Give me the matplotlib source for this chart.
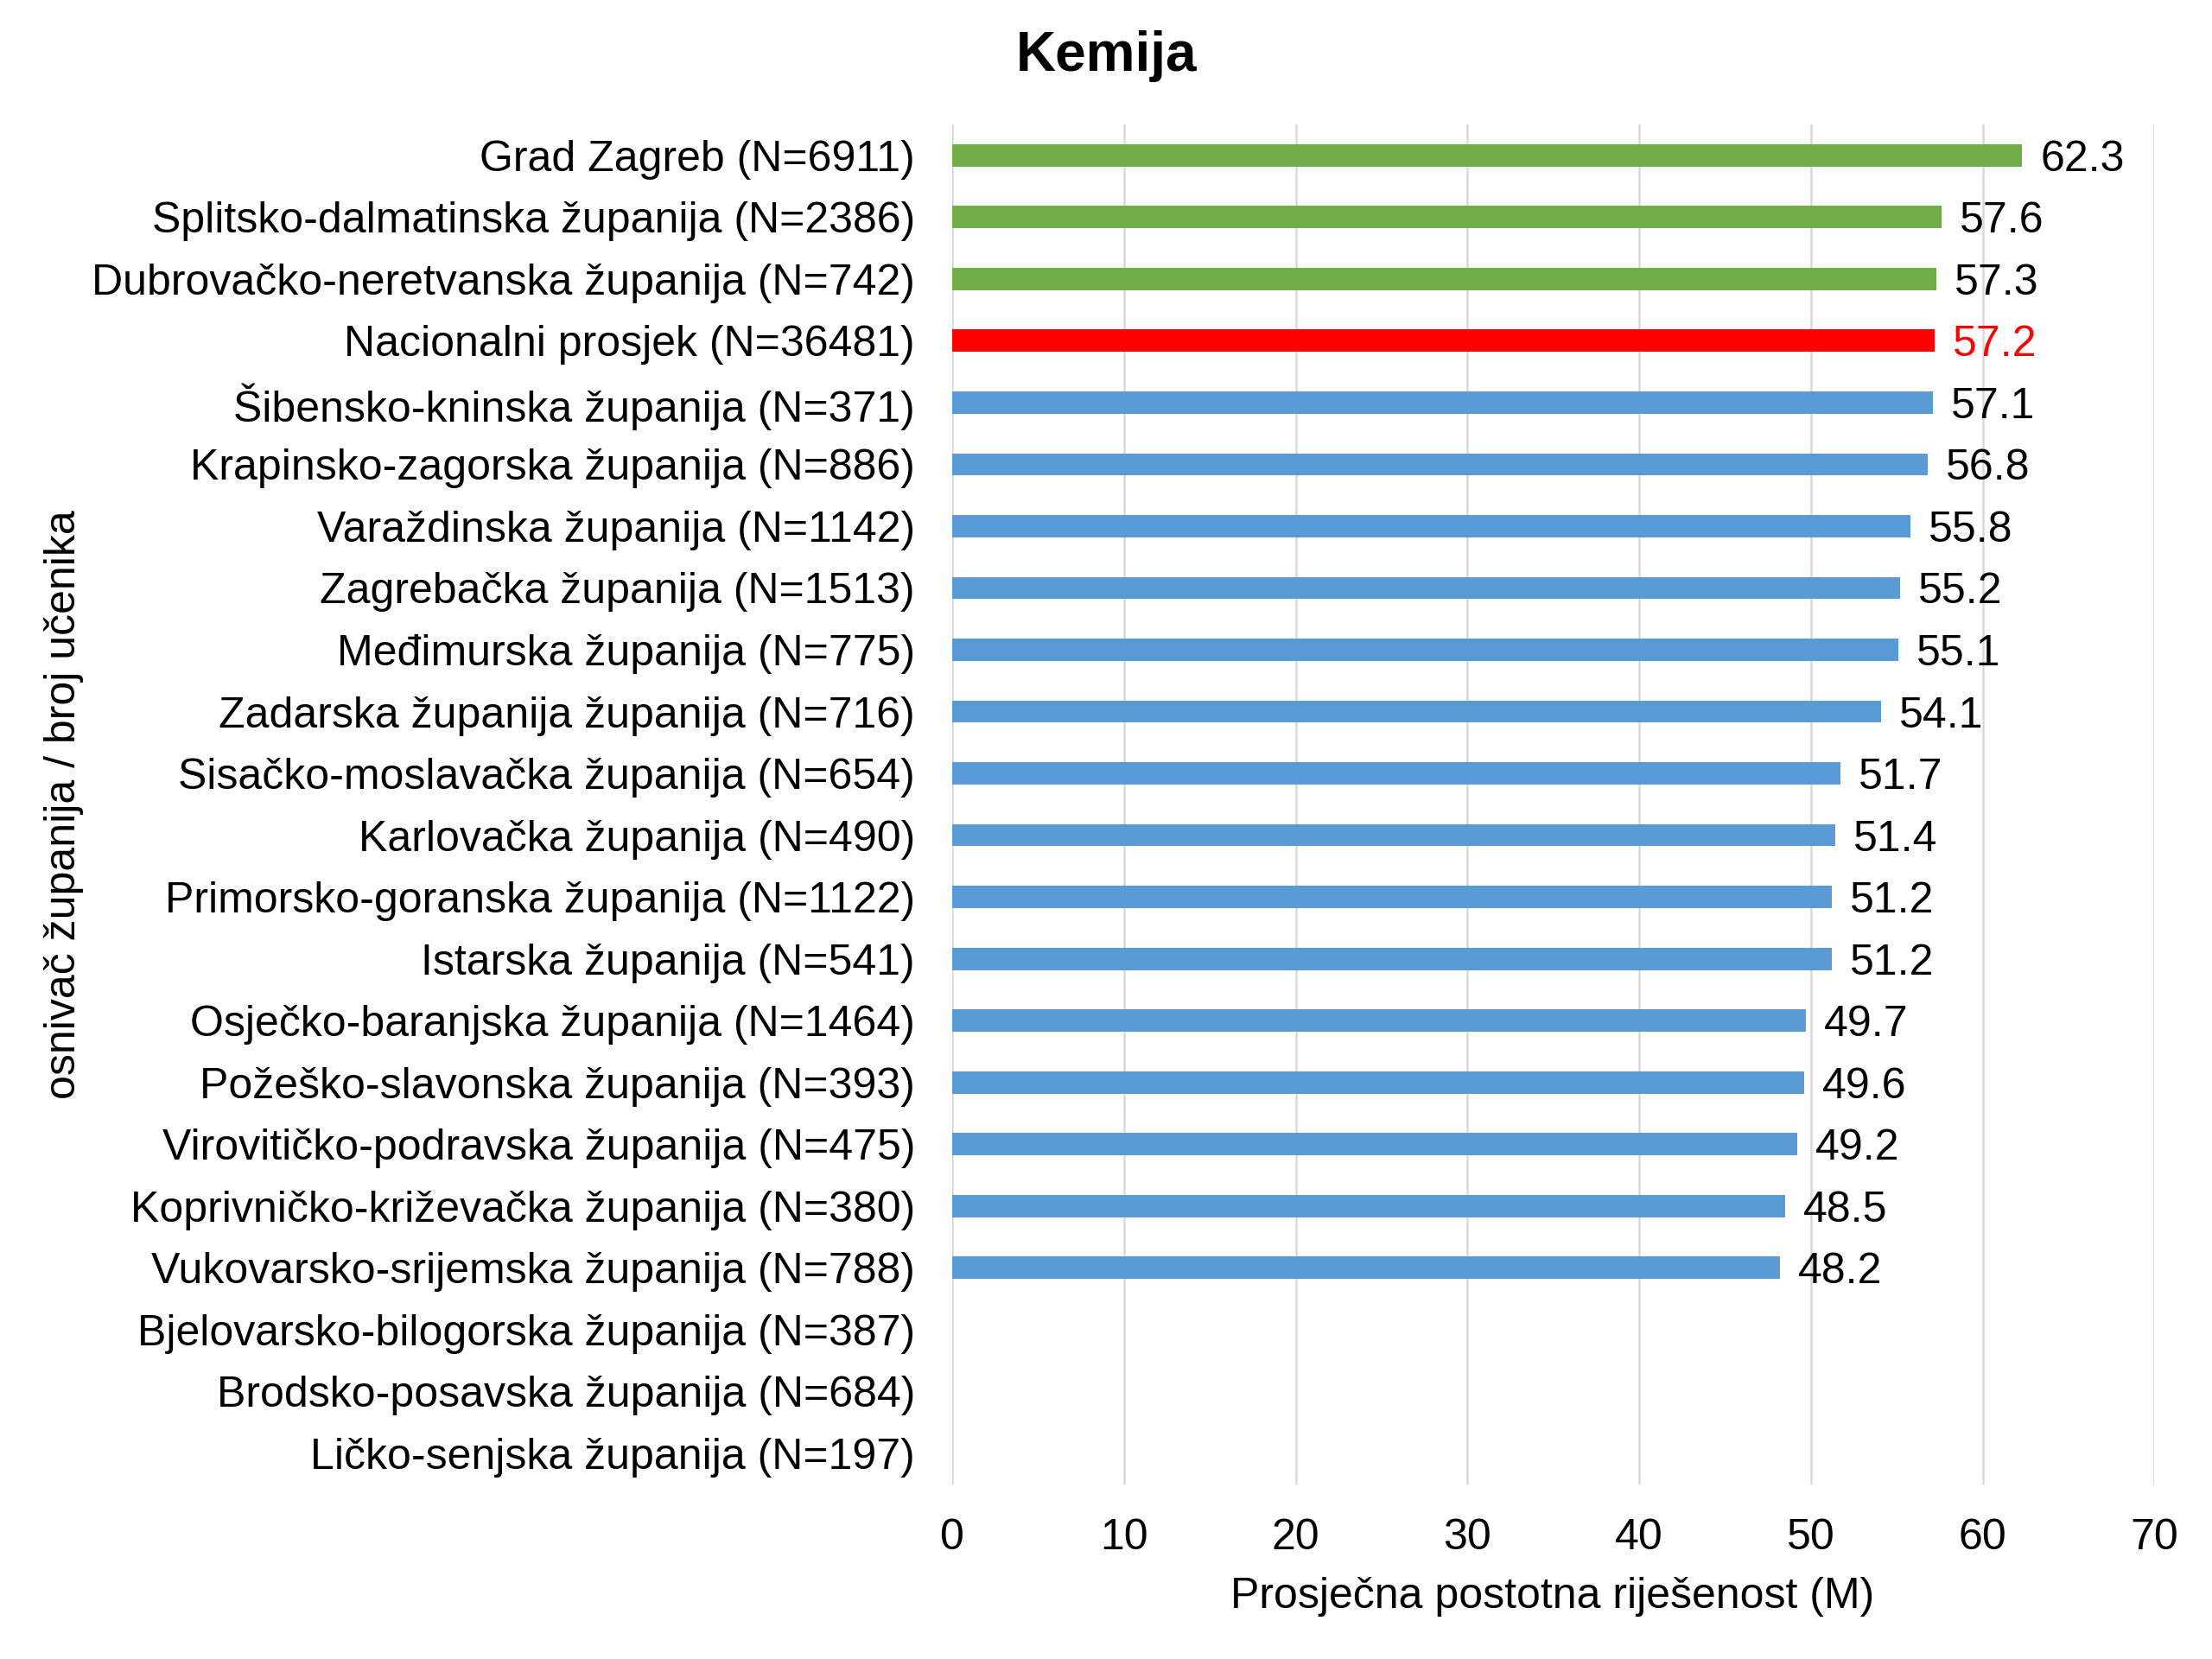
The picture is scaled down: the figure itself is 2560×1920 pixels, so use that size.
import numpy as np
import matplotlib
matplotlib.use("Agg")
import matplotlib.pyplot as plt

plt.rcParams['font.family'] = ['Liberation Sans', 'DejaVu Sans']

regions = [
    "Grad Zagreb (N=6911)",
    "Splitsko-dalmatinska županija (N=2386)",
    "Dubrovačko-neretvanska županija (N=742)",
    "Nacionalni prosjek (N=36481)",
    "Šibensko-kninska županija (N=371)",
    "Krapinsko-zagorska županija (N=886)",
    "Varaždinska županija (N=1142)",
    "Zagrebačka županija (N=1513)",
    "Međimurska županija (N=775)",
    "Zadarska županija županija (N=716)",
    "Sisačko-moslavačka županija (N=654)",
    "Karlovačka županija (N=490)",
    "Primorsko-goranska županija (N=1122)",
    "Istarska županija (N=541)",
    "Osječko-baranjska županija (N=1464)",
    "Požeško-slavonska županija (N=393)",
    "Virovitičko-podravska županija (N=475)",
    "Koprivničko-križevačka županija (N=380)",
    "Vukovarsko-srijemska županija (N=788)",
    "Bjelovarsko-bilogorska županija (N=387)",
    "Brodsko-posavska županija (N=684)",
    "Ličko-senjska županija (N=197)",
]
scores = [62.3, 57.6, 57.3, 57.2, 57.1, 56.8, 55.8, 55.2, 55.1, 54.1,
          51.7, 51.4, 51.2, 51.2, 49.7, 49.6, 49.2, 48.5, 48.2,
          None, None, None]
national = 57.2

GREEN = '#70AD47'
RED = '#FF0000'
BLUE = '#5B9BD5'
FS = 36

fig = plt.figure(figsize=(25.6, 19.2), dpi=100)
ax = fig.add_axes([0.4305, 0.1054, 0.5435, 0.8196])

ypos = np.arange(len(regions))
vals = [np.nan if v is None else v for v in scores]
colors = []
for i, v in enumerate(scores):
    if regions[i].startswith("Nacionalni"):
        colors.append(RED)
    elif v is not None and v > national:
        colors.append(GREEN)
    else:
        colors.append(BLUE)

ax.barh(ypos, vals, height=0.36, color=colors, zorder=3)

for i, v in enumerate(scores):
    if v is None:
        continue
    ax.annotate("{:.1f}".format(v), (v, i), xytext=(15, 0), textcoords='offset points',
                ha='left', va='center_baseline', fontsize=FS,
                color=RED if colors[i] == RED else 'black')

ax.set_ylim(len(regions) - 0.5, -0.5)
ax.set_xlim(0, 70)
ax.set_xticks(np.arange(0, 71, 10))
ax.set_yticks(ypos)
ax.set_yticklabels(regions)
ax.tick_params(axis='y', length=0, pad=31, labelsize=FS)
ax.tick_params(axis='x', length=0, pad=28, labelsize=FS)
ax.grid(axis='x', color='#D9D9D9', linewidth=1.8, zorder=0)
for s in ax.spines.values():
    s.set_visible(False)

fig.text(0.702, 0.0374, "Prosječna postotna riješenost (M)", ha='center', va='center', fontsize=FS)
fig.text(0.029, 0.515, "osnivač županija / broj učenika", rotation=90,
         ha='center', va='center', fontsize=FS)
fig.text(0.5, 0.966, "Kemija", ha='center', va='center', fontsize=46, fontweight='bold')

fig.savefig("out.png", dpi=100)
